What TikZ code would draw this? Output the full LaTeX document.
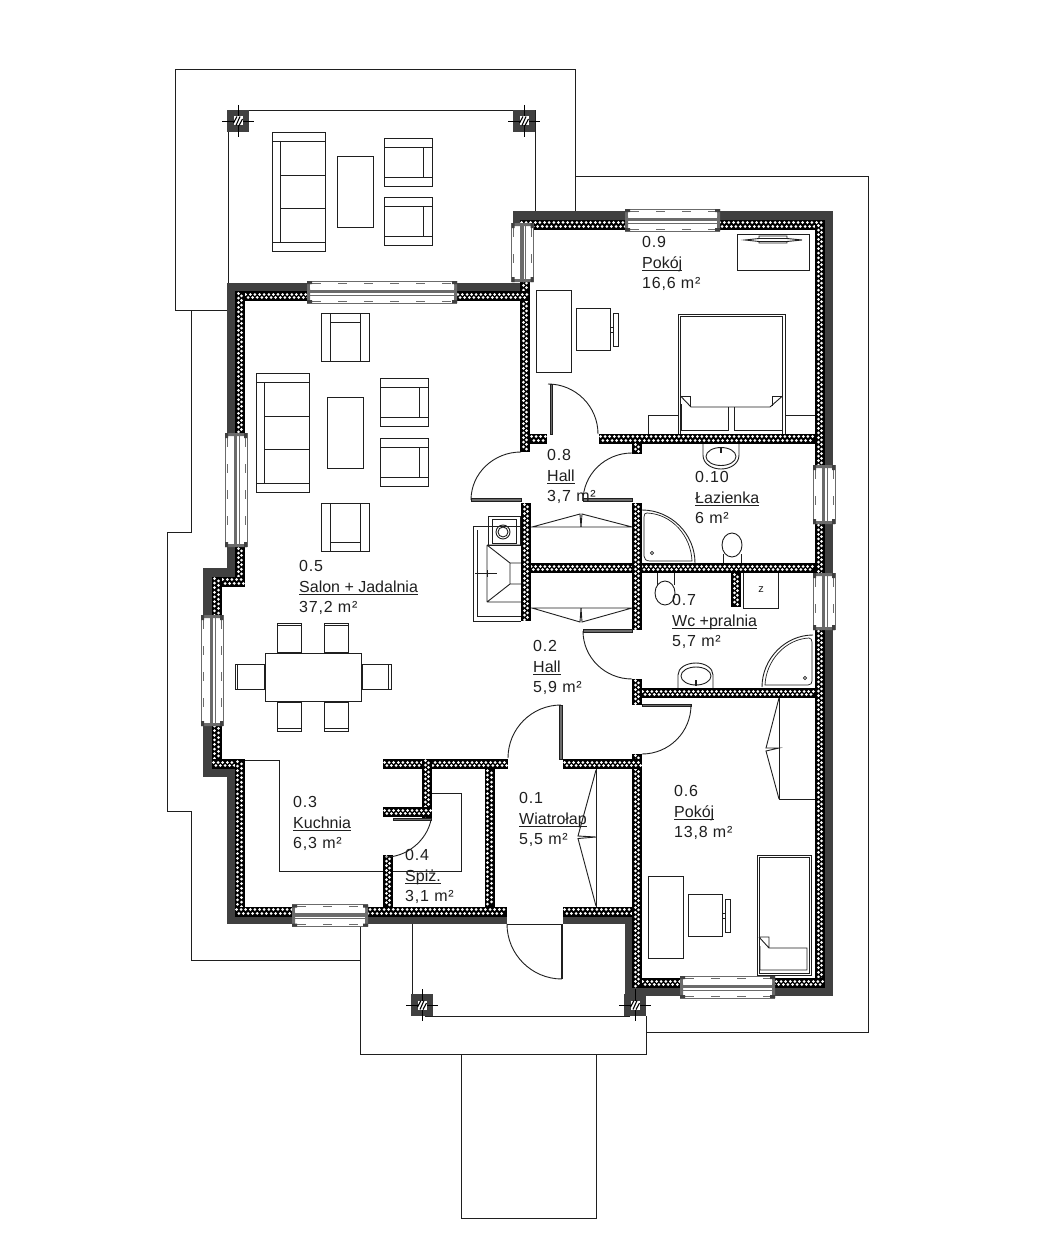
\documentclass[tikz,border=0pt]{standalone}
\usepackage{fontspec}
\setmainfont{Liberation Sans}
\newfontfamily\numfont[LetterSpace=5]{Liberation Sans}
\definecolor{ink}{gray}{0.12}
\definecolor{darkband}{gray}{0.25}
\definecolor{wingray}{gray}{0.42}
\tikzset{
  plan/.style={draw=ink,line width=0.9pt},
  thin plan/.style={draw=ink,line width=0.7pt},
  room/.style={anchor=north west,inner sep=0pt,align=left,text=ink,font=\fontsize{16}{20.5}\selectfont},
}
\newcommand\ulab[1]{{\setbox0\hbox{#1}\rlap{\rule[-3pt]{\wd0}{1.1pt}}\box0}}
\newcommand\wH[3]{% x1 x2 y
  \draw[line width=10pt,black] (#1,#3)--(#2,#3);
  \draw[white,line width=3pt,line cap=round,dash pattern=on 0.01pt off 4.6pt] (#1+1.5,#3-1.7)--(#2-1,#3-1.7);
  \draw[white,line width=3pt,line cap=round,dash pattern=on 0.01pt off 4.6pt] (#1+3.8,#3+1.7)--(#2-1,#3+1.7);
}
\newcommand\wV[3]{% x y1 y2
  \draw[line width=10pt,black] (#1,#2)--(#1,#3);
  \draw[white,line width=3pt,line cap=round,dash pattern=on 0.01pt off 4.6pt] (#1-1.7,#2+1.5)--(#1-1.7,#3-1);
  \draw[white,line width=3pt,line cap=round,dash pattern=on 0.01pt off 4.6pt] (#1+1.7,#2+3.8)--(#1+1.7,#3-1);
}
\newcommand\dk[4]{\fill[darkband] (#1,#2) rectangle (#3,#4);}
\newcommand\winH[3]{% x1 x2 yc
  \fill[white] (#1,#3-11) rectangle (#2,#3+11);
  \draw[wingray,line width=0.7pt] (#1,#3-11)--(#2,#3-11) (#1,#3+11)--(#2,#3+11);
  \draw[wingray,line width=0.9pt,dash pattern=on 9pt off 17pt] (#1+5,#3-9)--(#2-5,#3-9);
  \draw[wingray,line width=0.9pt,dash pattern=on 9pt off 17pt] (#1+5,#3+9)--(#2-5,#3+9);
  \fill[wingray] (#1+3,#3-2.5) rectangle (#2-3,#3+1);
  \draw[wingray,line width=0.7pt] (#1+3,#3+3)--(#2-3,#3+3);
  \fill[wingray] (#1,#3-11) rectangle (#1+3,#3+11) (#2-3,#3-11) rectangle (#2,#3+11);
  \fill[darkband] (#1,#3-11) rectangle (#1+5,#3-8) (#2-5,#3-11) rectangle (#2,#3-8)
                  (#1,#3+8) rectangle (#1+5,#3+11) (#2-5,#3+8) rectangle (#2,#3+11);
  \fill[white] (#1+3,#3-7) rectangle (#1+5,#3-3.5) (#2-5,#3-7) rectangle (#2-3,#3-3.5);
}
\newcommand\winV[3]{% xc y1 y2
  \fill[white] (#1-11,#2) rectangle (#1+11,#3);
  \draw[wingray,line width=0.7pt] (#1-11,#2)--(#1-11,#3) (#1+11,#2)--(#1+11,#3);
  \draw[wingray,line width=0.9pt,dash pattern=on 9pt off 17pt] (#1-9,#2+5)--(#1-9,#3-5);
  \draw[wingray,line width=0.9pt,dash pattern=on 9pt off 17pt] (#1+9,#2+5)--(#1+9,#3-5);
  \fill[wingray] (#1-2.5,#2+3) rectangle (#1+1,#3-3);
  \draw[wingray,line width=0.7pt] (#1+3,#2+3)--(#1+3,#3-3);
  \fill[wingray] (#1-11,#2) rectangle (#1+11,#2+3) (#1-11,#3-3) rectangle (#1+11,#3);
  \fill[darkband] (#1-11,#2) rectangle (#1-8,#2+5) (#1-11,#3-5) rectangle (#1-8,#3)
                  (#1+8,#2) rectangle (#1+11,#2+5) (#1+8,#3-5) rectangle (#1+11,#3);
}
\newcommand\qarc[6]{% P1 C P2 quarter arc
  \draw[plan] (#1,#2) .. controls ({#1+.5523*(#5-#3)},{#2+.5523*(#6-#4)}) and ({#5+.5523*(#1-#3)},{#6+.5523*(#2-#4)}) .. (#5,#6);
}
\newcommand\pillar[2]{% centre
  \fill[darkband] (#1-11,#2-11) rectangle (#1+11,#2+11);
  \draw[black,line width=0.7pt] (#1-16,#2)--(#1+16,#2) (#1,#2-16)--(#1,#2+16);
  \fill[white] (#1-4.5,#2-4.5) rectangle (#1+4.5,#2+4.5);
  \draw[black,line width=1.1pt] (#1-4.5,#2+2)--(#1-1,#2-4.5) (#1-2,#2+4.5)--(#1+2,#2-4.5) (#1+1,#2+4.5)--(#1+4.5,#2-2);
}
\newcommand\sofa[2]{% top-left
  \begin{scope}[shift={(#1,#2)}]
  \draw[plan] (0,0) rectangle (53,119) (0,9)--(53,9) (0,110)--(53,110) (8,9)--(8,110) (8,43)--(53,43) (8,76)--(53,76);
  \end{scope}
}
\newcommand\armR[2]{% armchair with bars at top, bottom and right
  \begin{scope}[shift={(#1,#2)}]
  \draw[plan] (0,0) rectangle (48,48) (0,9)--(48,9) (0,39)--(48,39) (39,9)--(39,39);
  \end{scope}
}
\newcommand\chairV[3]{% x y: back line
  \draw[plan] (#1,#2) rectangle (#1+24,#2+29);
  \draw[thin plan] (#1,#3)--(#1+24,#3);
}
\newcommand\chairH[3]{%
  \draw[plan] (#1,#2) rectangle (#1+29,#2+25);
  \draw[thin plan] (#3,#2)--(#3,#2+25);
}
\newcommand\desk[2]{% desk, table and chair unit
  \begin{scope}[shift={(#1,#2)}]
  \draw[plan] (0,0) rectangle (35,82) (40,18) rectangle (74,60) (74,37) rectangle (77,42) (77,23) rectangle (82,56);
  \end{scope}
}
\newcommand\rlabel[6]{\node[room] (#1) at (#2,#3) {{\numfont #4}\\\ulab{#5}\\{\numfont #6}};}
\begin{document}
\begin{tikzpicture}[x=1pt,y=-1pt]
\useasboundingbox (0,0) rectangle (1056,1260);
\fill[white] (0,0) rectangle (1056,1260);

% roof and terraces
\draw[plan] (227,310)--(175,310)--(175,69)--(575,69)--(575,212);
\draw[plan] (575,176)--(868,176)--(868,1032)--(646,1032);
\draw[plan] (227,310)--(191,310)--(191,532)--(167,532)--(167,811)--(191,811)--(191,960)--(360,960);
\draw[plan] (360,924)--(360,1054)--(646,1054)--(646,1016);
\draw[plan] (461,1054)--(461,1218)--(596,1218)--(596,1054);
\draw[plan] (228,121)--(228,283) (228,110)--(535,110)--(535,212);
\draw[plan] (412,924)--(412,1000) (425,1016)--(630,1016);
\draw[plan] (507,924)--(563,924);

% terrace furniture
\sofa{272}{132}
\draw[plan] (337,156) rectangle (373,227);
\armR{384}{138}
\armR{384}{197}

% salon furniture
\draw[plan] (321,313) rectangle (369,361) (330,313)--(330,361) (360,313)--(360,361) (330,322)--(360,322);
\sofa{256}{373}
\draw[plan] (327,397) rectangle (363,468);
\armR{380}{378}
\armR{380}{438}
\draw[plan] (321,503) rectangle (369,551) (330,503)--(330,551) (360,503)--(360,551) (330,542)--(360,542);

% dining
\draw[plan] (265,653) rectangle (361,701);
\chairV{277}{623}{625.5}
\chairV{324}{623}{625.5}
\chairV{277}{702}{728}
\chairV{324}{702}{728}
\chairH{235}{664}{237.5}
\chairH{362}{664}{388}

% kitchen counter
\draw[plan] (245,760)--(279,760)--(279,871)--(461,871)--(461,793)--(432,793);

% room 0.9
\desk{536}{290}
\draw[plan] (737,234) rectangle (809,270);
\draw[plan] (745,240)--(759,238.5)--(759,236)--(787,236)--(787,238.5)--(802,240)--(787,241.5)--(787,243)--(759,243)--(759,241.5)--cycle;
\draw[plan] (759,238.5)--(787,238.5) (759,241.5)--(787,241.5);
\draw[plan] (678,434)--(678,314)--(785,314)--(785,434);
\draw[thin plan] (680.5,434)--(680.5,316.5)--(782.5,316.5)--(782.5,434);
\draw[plan] (680.5,396)--(691,407)--(770,407)--(782.5,396);
\draw[thin plan] (680.5,396)--(690,396)--(690,406) (782.5,396)--(772,396)--(772,406);
\draw[plan] (681,404)--(681,430)--(728,430)--(728,407) (734,407)--(734,430)--(782,430)--(782,404);
\draw[plan] (648,434)--(648,415)--(678,415) (785,415)--(815,415);

% room 0.6
\desk{648}{876}
\draw[plan] (757,855) rectangle (811,975);
\draw[thin plan] (759,857) rectangle (809,973);
\draw[plan] (759,937)--(769,948)--(807,948)--(807,970)--(760,970)--(760,946) (759,937)--(769,937)--(769,948);
\draw[plan] (815,799)--(779,799)--(779,698);
\draw[plan] (779,698)--(766,748)--(779,748)--(766,751)--(779,799);

% cupboards
\draw[plan] (596,769)--(596,907);
\draw[plan] (596,770)--(578,836)--(596,837)--(578,838.5)--(596,906);
\draw[plan] (531,527)--(632,527) (532,527)--(580,514)--(581,527)--(582,514)--(632,527);
\draw[plan] (531,608)--(632,608) (532,608)--(580,622)--(581,608)--(582,622)--(632,608);

% chimney and fireplace
\draw[plan] (521,526)--(488,526) (488,526)--(473,526)--(473,621)--(521,621);
\draw[thin plan] (477,530)--(477,616)--(521,616);
\draw[plan] (488,516) rectangle (520,545);
\draw[thin plan] (492,519) rectangle (516,543);
\draw[plan] (503,532) circle[radius=7pt] (503,532) circle[radius=5pt];
\draw[plan] (487,545)--(487,602) (487,545)--(521,545) (487,602)--(521,602) (487,545)--(510,563)--(510,584)--(487,602) (510,563)--(521,563) (510,584)--(521,584);
\draw[thin plan] (475,573)--(497,573) (487,570)--(487,577);

% bathroom 0.10
\draw[plan] (642,510) .. controls (671,510) and (695,534) .. (695,563);
\draw[thin plan] (647,513) .. controls (672,514) and (691,536) .. (692,561)--(650,561) .. controls (646,561) and (644,559) .. (644,556)--(644,517) .. controls (644,514) and (645,513) .. (647,513)--cycle;
\draw[thin plan] (652,553) circle[radius=1.6pt];
\draw[plan] (732,545) ellipse[x radius=10pt,y radius=12pt];
\draw[plan] (723,554)--(723,563) (741,554)--(741,563);
\draw[plan] (703,443)--(703,455) .. controls (703,464) and (712,469) .. (721,469) .. controls (730,469) and (739,464) .. (739,455)--(739,443);
\draw[plan] (721,456.5) ellipse[x radius=15pt,y radius=9pt];
\fill[ink] (720,447) rectangle (722,453);

% wc 0.7
\draw[plan] (657,573)--(657,585) (674,573)--(674,585);
\fill[white] (665,593) ellipse[x radius=10pt,y radius=12pt];
\draw[plan] (665,593) ellipse[x radius=10pt,y radius=12pt];
\draw[plan] (743,573)--(743,608)--(778,608)--(778,573);
\draw[plan] (678,688)--(678,675) .. controls (678,668) and (686,663) .. (696,663) .. controls (705,663) and (713,668) .. (713,675)--(713,688);
\draw[plan] (696,676) ellipse[x radius=15pt,y radius=9pt];
\fill[ink] (695,680) rectangle (697,686);
\draw[plan] (813,635) .. controls (785,635) and (762,659) .. (762,687);
\draw[thin plan] (809,638) .. controls (786,639) and (766,660) .. (765,685)--(808,685) .. controls (811,685) and (812,683) .. (812,681)--(812,642) .. controls (812,640) and (811,638) .. (809,638)--cycle;
\draw[thin plan] (805,678) circle[radius=1.6pt];

% outer dark bands
\dk{513}{211}{833}{220}
\dk{513}{211}{521}{228}
\dk{825}{211}{833}{996}
\dk{625}{988}{833}{996}
\dk{625}{917}{632}{1000}
\dk{563}{917}{632}{924}
\dk{227}{916}{507}{924}
\dk{227}{768}{235}{924}
\dk{203}{768}{235}{777}
\dk{203}{726}{212}{777}
\dk{203}{568}{212}{615}
\dk{203}{568}{235}{577}
\dk{227}{547}{235}{577}
\dk{227}{283}{235}{433}
\dk{227}{283}{521}{292}

% insulated walls
\wH{520}{825}{224.5}
\wV{820}{224}{988}
\wV{525}{224}{452}
\wH{235}{530}{296}
\wV{240}{292}{433}
\wV{240}{547}{586}
\wH{212}{245}{581.5}
\wV{216.5}{577}{769}
\wH{212}{245}{764}
\wV{239.5}{760}{916}
\wH{235}{507}{911.5}
\wH{563}{642}{911.5}
\wH{632}{825}{983}
\wV{637}{754}{988}
\wH{383}{508}{764}
\wH{563}{642}{764}
\wV{427}{759}{818}
\wH{383}{432}{812}
\wV{489.5}{769}{907}
\wV{388}{855}{907}
\wH{632}{815}{693}
\wV{637}{679}{705}
\wH{525}{815}{568}
\wV{526}{503}{621}
\wV{637}{503}{630}
\wV{736}{573}{607}
\wH{530}{547}{438.5}
\wH{599}{815}{438.5}
\wV{637}{443}{454}

% pillars
\pillar{238}{121}
\pillar{524}{121}
\pillar{422}{1005}
\pillar{635}{1005}

% windows
\winH{307}{457}{292}
\winH{625}{720}{220}
\winH{292}{368}{915.5}
\winH{680}{775}{987}
\winV{522.5}{223}{282}
\winV{236}{433}{547}
\winV{212}{615}{726}
\winV{824}{465}{524}
\winV{824}{573}{630}

% doors: leaf and swing
\draw[plan,fill=wingray] (550,384) rectangle (552.5,434);
\qarc{548}{384}{548}{434}{598}{434}
\draw[plan,fill=wingray] (471,498.5) rectangle (521,501);
\qarc{521}{452}{521}{500}{471}{500}
\draw[plan,fill=wingray] (583,498.5) rectangle (632,501);
\qarc{632}{453}{632}{501}{583}{501}
\draw[plan,fill=wingray] (583,629.5) rectangle (632,632);
\qarc{583}{631}{632}{631}{632}{679}
\draw[plan,fill=wingray] (642,704) rectangle (691,706.5);
\qarc{691}{705}{642}{705}{642}{754}
\draw[plan,fill=wingray] (559.5,705) rectangle (562,759);
\qarc{561}{705}{561}{758}{508}{758}
\draw[plan] (561,924)--(561,979) (562.5,924)--(562.5,979);
\qarc{507}{924}{562}{924}{562}{979}
\draw[plan,fill=wingray] (393,818) rectangle (431,820.5);
\qarc{431}{820}{393}{819}{385}{857}

% labels
\rlabel{r9}{642}{236.5}{0.9}{Pokój}{16,6 m²}
\rlabel{r10}{695}{471.5}{0.10}{Łazienka}{6 m²}
\rlabel{r8}{547}{449.5}{0.8}{Hall}{3,7 m²}
\rlabel{r2}{533}{640.5}{0.2}{Hall}{5,9 m²}
\rlabel{r7}{672}{594.5}{0.7}{Wc +pralnia}{5,7 m²}
\rlabel{r5}{299}{560.5}{0.5}{Salon + Jadalnia}{37,2 m²}
\rlabel{r3}{293}{796.5}{0.3}{Kuchnia}{6,3 m²}
\rlabel{r4}{405}{849.5}{0.4}{Spiż.}{3,1 m²}
\rlabel{r1}{519}{792.5}{0.1}{Wiatrołap}{5,5 m²}
\rlabel{r6}{674}{785.5}{0.6}{Pokój}{13,8 m²}
\node[inner sep=0pt,text=ink,font=\fontsize{11}{13}\selectfont] (zbox) at (761,590) {z};
\end{tikzpicture}
\end{document}
